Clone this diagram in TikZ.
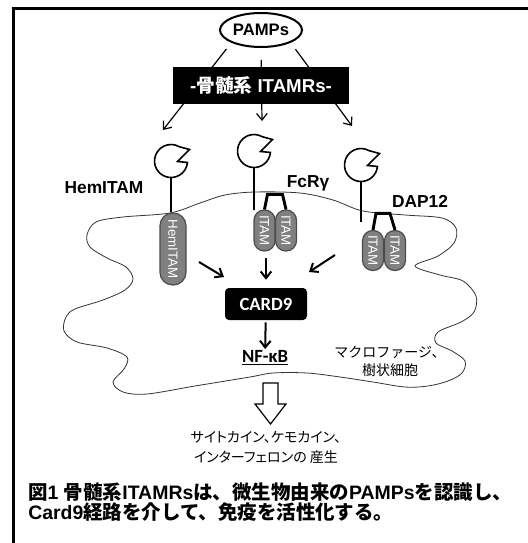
\documentclass[tikz,border=0pt]{standalone}
\usepackage{fontspec}
\setmainfont{Liberation Sans}
\newfontfamily\jpfont{Noto Sans CJK JP}
\newfontfamily\jpnarrow[RawFeature=+palt]{Noto Sans CJK JP}
\newfontfamily\calfont{Carlito}
\usetikzlibrary{arrows.meta,shapes.geometric}

\tikzset{
  sig/.style={->, line width=1.5pt},
  thinsig/.style={-{Straight Barb[length=5pt,width=8pt]}, line width=0.9pt},
  head/.style={line width=1.2pt},
  stalk/.style={line width=1.5pt},
  bracket/.style={line width=2.2pt},
  membrane/.style={line width=0.6pt, black!80},
  itam/.style={draw=black!70, line width=0.9pt, fill=black!50, text=white,
    inner sep=0pt, rotate=-90, font=\fontsize{10}{12}\selectfont},
  lbl/.style={font=\bfseries\fontsize{13}{15}\selectfont},
}

\begin{document}
\begin{tikzpicture}[x=0.75pt, y=-0.75pt, >={Straight Barb[length=5pt,width=8pt]}]
    \useasboundingbox (0,0) rectangle (528,543);
    % frame
    \draw[line width=2.25pt] (13,543) -- (13,8) -- (528,8);

    % cell outline
    \draw[membrane] plot[smooth cycle, tension=0.55] coordinates {
        (87,235) (96,222) (123,217) (170,213) (200,203) (225,195) (255,192)
        (300,193) (333,200) (363,211) (405,215) (442,218) (456,228) (454,243)
        (438,256) (415,266) (440,275) (463,281) (476,296) (474,312) (461,322)
        (438,332) (436,343) (452,351) (465,361) (462,373) (448,381) (428,386)
        (405,387) (373,382) (340,377) (307,373) (273,373) (250,377) (195,386)
        (147,394) (123,392) (113,382) (124,369) (127,357) (107,348) (77,342)
        (64,331) (66,317) (75,309) (103,300) (125,290) (133,279) (126,267)
        (107,258) (90,247)};

    % ligand
    \node[ellipse, draw, line width=1.5pt, minimum width=61.5pt, minimum height=25.5pt,
        inner sep=0pt, font=\bfseries\fontsize{12.5}{14}\selectfont] (pamps) at (261,30) {PAMPs};

    \coordinate (tipHem) at (163,130);
    \coordinate (tipFc) at (262,121);
    \coordinate (tipDap) at (352,126);
    \draw[thinsig, shorten <=6pt] (pamps.south west) -- (tipHem);
    \draw[thinsig, shorten <=9pt] (pamps.south) -- (tipFc);
    \draw[thinsig, shorten <=6pt] (pamps.south east) -- (tipDap);

    \node[fill=black, text=white, minimum width=132pt, minimum height=27.75pt,
        font=\bfseries\fontsize{14}{16}\selectfont] (itamrs) at (261,85.5) {-{\jpfont 骨髄系} ITAMRs-};

    % receptor heads
    \coordinate (hdHem) at (171,161);
    \coordinate (hdFc) at (254,151);
    \coordinate (hdDap) at (361,165);
    \foreach \n in {hdHem,hdFc,hdDap} {
        \begin{scope}[shift={(\n)}]
            \draw[head] (5:16.5) arc[start angle=5, end angle=300, radius=16.5]
                -- (18.5,-11.5) -- (6.5,0.5) -- cycle;
        \end{scope}
    }

    % ITAM tails
    \node[itam, minimum width=54pt, minimum height=19.5pt, rounded corners=9.5pt] (hem) at (173,249) {HemITAM};
    \node[itam, minimum width=30.75pt, minimum height=15.75pt, rounded corners=7.7pt] (fcrL) at (264.5,230.5) {ITAM};
    \node[itam, minimum width=30.75pt, minimum height=15.75pt, rounded corners=7.7pt] (fcrR) at (286,230.5) {ITAM};
    \node[itam, minimum width=30pt, minimum height=15.75pt, rounded corners=7.7pt] (dapL) at (373,250.5) {ITAM};
    \node[itam, minimum width=30pt, minimum height=15.75pt, rounded corners=7.7pt] (dapR) at (395,250.5) {ITAM};

    \draw[stalk] ([yshift=-12.4pt]hdHem) -- (hdHem |- hem.west);
    \draw[stalk] ([yshift=-12.4pt]hdFc) -- (254,210);
    \draw[stalk] ([yshift=-12.4pt]hdDap) -- (361,222);
    \draw[bracket] (fcrL.west) -- ++(3,-15) -- ++(15,0) -- (fcrR.west);
    \draw[bracket] (dapL.west) -- ++(3,-16.5) -- ++(14,0) -- (dapR.west);

    \node[lbl] (lHem) at (104,188) {HemITAM};
    \node[lbl] (lFc) at (308,183) {FcRγ};
    \node[lbl] (lDap) at (420,201) {DAP12};

    % signalling
    \node[fill=black, rounded corners=3pt, minimum width=61.5pt, minimum height=24pt, text=white,
        font=\calfont\bfseries\fontsize{14}{16}\selectfont] (card9) at (266,304) {CARD9};
    \node[inner sep=1pt, font=\calfont\bfseries\fontsize{14}{16}\selectfont] (nfkb) at (265,358) {\underline{NF-κB}};

    \coordinate (fromHem) at (199,262);
    \coordinate (toHem) at (224,277);
    \coordinate (fromDap) at (335,255);
    \coordinate (toDap) at (309,272);
    \draw[sig] (fromHem) -- (toHem);
    \draw[sig, shorten <=5pt, shorten >=6pt] (card9.north |- fcrL.east) -- (card9.north);
    \draw[sig] (fromDap) -- (toDap);
    \draw[sig, shorten <=1.5pt] (card9) -- (nfkb);

    \node[align=center, font=\jpfont\fontsize{10.5}{13.5}\selectfont] (cells) at (390,361) {マクロファージ、\\樹状細胞};

    % output
    \draw[line width=0.9pt] (263,383) -- (263,404) -- (255,404) -- (270.5,424) -- (286,404)
        -- (278,404) -- (278,383) -- cycle;
    \node[align=center, font=\jpnarrow\fontsize{10.5}{15}\selectfont] (out) at (266,448)
        {サイトカイン、ケモカイン、\\インターフェロンの 産生};

    % caption
    \node[anchor=west, align=left, inner sep=0pt, font=\bfseries\fontsize{14.6}{15}\selectfont] (cap) at (28,502)
        {{\jpfont 図}1 {\jpfont 骨髄系}ITAMRs{\jpfont は、微生物由来の}PAMPs{\jpfont を認識し、}\\
         Card9{\jpfont 経路を介して、免疫を活性化する。}};
\end{tikzpicture}
\end{document}
